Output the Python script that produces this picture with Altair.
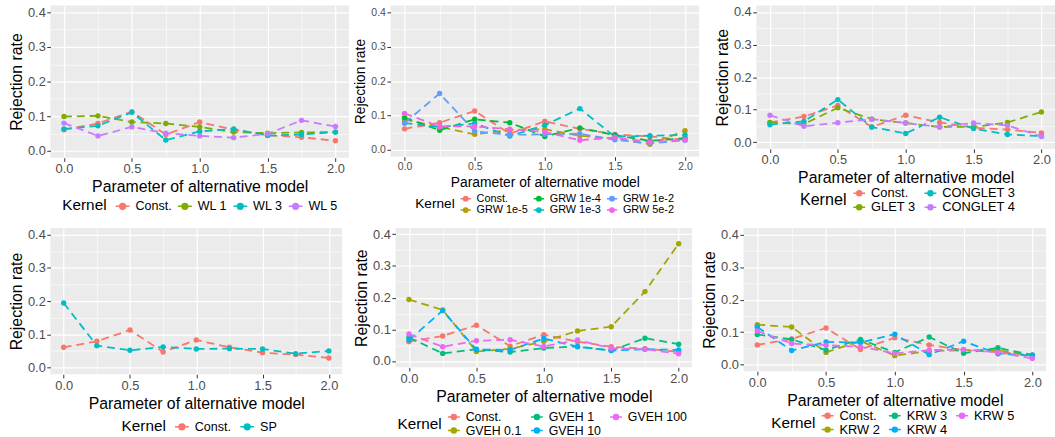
import altair as alt
import pandas as pd

FONT = "Liberation Sans"

# Parameter values of the alternative model (x axis)
param = [0.0, 0.25, 0.5, 0.75, 1.0, 1.25, 1.5, 1.75, 2.0]

# Constant kernel (shared baseline in every panel)
const = [0.061, 0.079, 0.113, 0.047, 0.083, 0.061, 0.045, 0.039, 0.029]

# Weisfeiler-Lehman kernels
wl1 = [0.099, 0.101, 0.083, 0.079, 0.069, 0.054, 0.051, 0.053, 0.054]
wl3 = [0.063, 0.072, 0.111, 0.031, 0.056, 0.063, 0.044, 0.047, 0.054]
wl5 = [0.080, 0.043, 0.069, 0.051, 0.043, 0.038, 0.049, 0.088, 0.070]

# Geometric random walk kernels
grw_1e5 = [0.088, 0.067, 0.045, 0.058, 0.060, 0.041, 0.033, 0.016, 0.056]
grw_1e4 = [0.094, 0.057, 0.089, 0.079, 0.039, 0.064, 0.043, 0.026, 0.034]
grw_1e3 = [0.078, 0.066, 0.077, 0.040, 0.072, 0.120, 0.038, 0.041, 0.043]
grw_1e2 = [0.078, 0.164, 0.054, 0.044, 0.045, 0.047, 0.029, 0.019, 0.028]
grw_5e2 = [0.106, 0.068, 0.068, 0.060, 0.052, 0.028, 0.036, 0.023, 0.029]

# Graphlet kernels
glet3 = [0.061, 0.056, 0.106, 0.071, 0.059, 0.047, 0.047, 0.061, 0.093]
conglet3 = [0.054, 0.064, 0.131, 0.047, 0.027, 0.077, 0.042, 0.024, 0.019]
conglet4 = [0.083, 0.049, 0.060, 0.071, 0.059, 0.047, 0.059, 0.052, 0.018]

# Shortest-path kernel
sp = [0.194, 0.066, 0.052, 0.062, 0.056, 0.057, 0.056, 0.042, 0.050]

# Gaussian vertex-edge histogram kernels
gveh_01 = [0.194, 0.161, 0.030, 0.038, 0.062, 0.095, 0.108, 0.219, 0.370]
gveh_1 = [0.074, 0.024, 0.037, 0.028, 0.041, 0.046, 0.033, 0.072, 0.053]
gveh_10 = [0.066, 0.159, 0.036, 0.035, 0.071, 0.045, 0.033, 0.037, 0.035]
gveh_100 = [0.085, 0.045, 0.064, 0.067, 0.046, 0.066, 0.040, 0.037, 0.023]

# K-step random walk kernels
krw2 = [0.123, 0.116, 0.038, 0.073, 0.028, 0.042, 0.045, 0.045, 0.028]
krw3 = [0.093, 0.078, 0.045, 0.078, 0.038, 0.085, 0.035, 0.052, 0.030]
krw4 = [0.116, 0.044, 0.070, 0.068, 0.094, 0.031, 0.072, 0.034, 0.028]
krw5 = [0.104, 0.065, 0.060, 0.055, 0.035, 0.045, 0.047, 0.038, 0.019]

X_TICKS = [i * 0.25 for i in range(9)]
Y_TICKS = [i * 0.05 for i in range(9)]
MAJOR_X = "abs(datum.value * 2 - round(datum.value * 2)) < 0.000001"
MAJOR_Y = "abs(datum.value * 10 - round(datum.value * 10)) < 0.000001"

# Legend key: short dashes either side of a dot
KEY_PATH = ("M-1,0L-0.5,0M0.5,0L1,0"
            "M0.42,0A0.42,0.42,0,1,1,-0.42,0A0.42,0.42,0,1,1,0.42,0Z")


def make_axis(title, values, major, tick_fs, title_fs):
    return alt.Axis(
        title=title,
        values=values,
        labelExpr=f"({major}) ? format(datum.value, '.1f') : ''",
        grid=True,
        gridColor="white",
        gridWidth={"condition": {"test": major, "value": 1.2}, "value": 0.6},
        tickOpacity={"condition": {"test": major, "value": 1}, "value": 0},
        tickColor="#333333",
        tickSize=3.7,
        tickWidth=1,
        domain=False,
        labelColor="#4D4D4D",
        labelFont=FONT,
        labelFontSize=tick_fs,
        labelPadding=1.5,
        labelOverlap=False,
        labelFlush=False,
        titleFont=FONT,
        titleFontSize=title_fs,
        titleFontWeight="normal",
        titleColor="black",
        titlePadding=3,
    )


def panel(series, colors, legend_order, columns, width, height,
          lx, ly, tick_fs=13, title_fs=16, leg_title_fs=15.5, leg_fs=12.7,
          key_size=196, row_pad=2, col_pad=6, title_pad=5):
    rows = []
    for idx, (name, vals) in enumerate(series):
        for xv, yv in zip(param, vals):
            rows.append({"x": xv, "rate": yv, "Kernel": name, "ord": idx})
    df = pd.DataFrame(rows)
    color_of = dict(zip([s[0] for s in series], colors))
    scale = alt.Scale(domain=legend_order, range=[color_of[k] for k in legend_order])
    legend_opts = dict(
        title="Kernel", orient="none", legendX=lx, legendY=ly,
        direction="horizontal", columns=columns,
        titleOrient="left", titleBaseline="middle",
        titleFont=FONT, titleFontSize=leg_title_fs, titleFontWeight="normal",
        titleColor="black", titlePadding=title_pad,
        labelFont=FONT, labelFontSize=leg_fs, labelColor="black",
        labelOffset=5, symbolType=KEY_PATH, symbolSize=key_size,
        symbolStrokeWidth=1.5, rowPadding=row_pad, columnPadding=col_pad,
    )
    if len(series) > columns:
        # two-row legends keep their title centred between the rows
        legend_opts["titleAnchor"] = "middle"
    color = alt.Color("Kernel:N", scale=scale, legend=alt.Legend(**legend_opts))

    base = alt.Chart(df).encode(
        x=alt.X("x:Q", scale=alt.Scale(domain=[-0.1, 2.1], nice=False, zero=False),
                axis=make_axis("Parameter of alternative model", X_TICKS, MAJOR_X,
                               tick_fs, title_fs)),
        y=alt.Y("rate:Q", scale=alt.Scale(domain=[-0.02, 0.42], nice=False, zero=False),
                axis=make_axis("Rejection rate", Y_TICKS, MAJOR_Y, tick_fs, title_fs)),
        color=color,
    )
    lines = base.mark_line(strokeDash=[8, 5], strokeWidth=1.8).encode(detail="ord:O")
    points = base.mark_point(filled=True, size=30, opacity=1)
    return alt.layer(lines, points).properties(width=width, height=height)


def independent(c):
    return c.resolve_scale(color="independent").resolve_legend(color="independent")


RED = "#F8766D"

p1 = panel([("Const.", const), ("WL 1", wl1), ("WL 3", wl3), ("WL 5", wl5)],
           [RED, "#7CAE00", "#00BFC4", "#C77CFF"],
           ["Const.", "WL 1", "WL 3", "WL 5"], 4, 302, 154, 12, 195,
           col_pad=3, title_pad=8)

p2 = panel([("Const.", const), ("GRW 1e-5", grw_1e5), ("GRW 1e-4", grw_1e4),
            ("GRW 1e-3", grw_1e3), ("GRW 1e-2", grw_1e2), ("GRW 5e-2", grw_5e2)],
           [RED, "#B79F00", "#00BA38", "#00BFC4", "#619CFF", "#F564E3"],
           ["Const.", "GRW 1e-4", "GRW 1e-2", "GRW 1e-5", "GRW 1e-3", "GRW 5e-2"],
           3, 312, 153, 25, 189, tick_fs=10.6, title_fs=14, leg_title_fs=13.8,
           leg_fs=11, key_size=110, row_pad=0, col_pad=2)

p3 = panel([("Const.", const), ("GLET 3", glet3), ("CONGLET 3", conglet3),
            ("CONGLET 4", conglet4)],
           [RED, "#7CAE00", "#00BFC4", "#C77CFF"],
           ["Const.", "CONGLET 3", "GLET 3", "CONGLET 4"], 2, 302, 145, 44, 183,
           leg_title_fs=16.3, leg_fs=13, key_size=144, row_pad=0)

p4 = panel([("Const.", const), ("SP", sp)], [RED, "#00BFC4"],
           ["Const.", "SP"], 2, 295, 148, 72, 193, title_pad=8)

p5 = panel([("Const.", const), ("GVEH 0.1", gveh_01), ("GVEH 1", gveh_1),
            ("GVEH 10", gveh_10), ("GVEH 100", gveh_100)],
           [RED, "#A3A500", "#00BF7D", "#00B0F6", "#E76BF3"],
           ["Const.", "GVEH 1", "GVEH 100", "GVEH 0.1", "GVEH 10"], 3, 300, 141, 2, 184,
           leg_fs=12.5, key_size=144, row_pad=0)

p6 = panel([("Const.", const), ("KRW 2", krw2), ("KRW 3", krw3), ("KRW 4", krw4),
            ("KRW 5", krw5)],
           [RED, "#A3A500", "#00BF7D", "#00B0F6", "#E76BF3"],
           ["Const.", "KRW 3", "KRW 5", "KRW 2", "KRW 4"], 3, 306, 145, 28, 183,
           leg_fs=13, key_size=144, row_pad=0)

row1 = independent(alt.hconcat(independent(alt.hconcat(p1, p2, spacing=5)), p3, spacing=15))
row2 = independent(alt.hconcat(independent(alt.hconcat(p4, p5, spacing=11)), p6, spacing=9))

chart = (
    independent(alt.vconcat(row1, row2, spacing=12))
    .properties(padding={"left": 8, "top": 3, "right": 0, "bottom": 0}, background="white")
    .configure_view(fill="#EBEBEB", strokeWidth=0)
)

chart.save("out.html", embed_options={"renderer": "svg", "actions": False})
